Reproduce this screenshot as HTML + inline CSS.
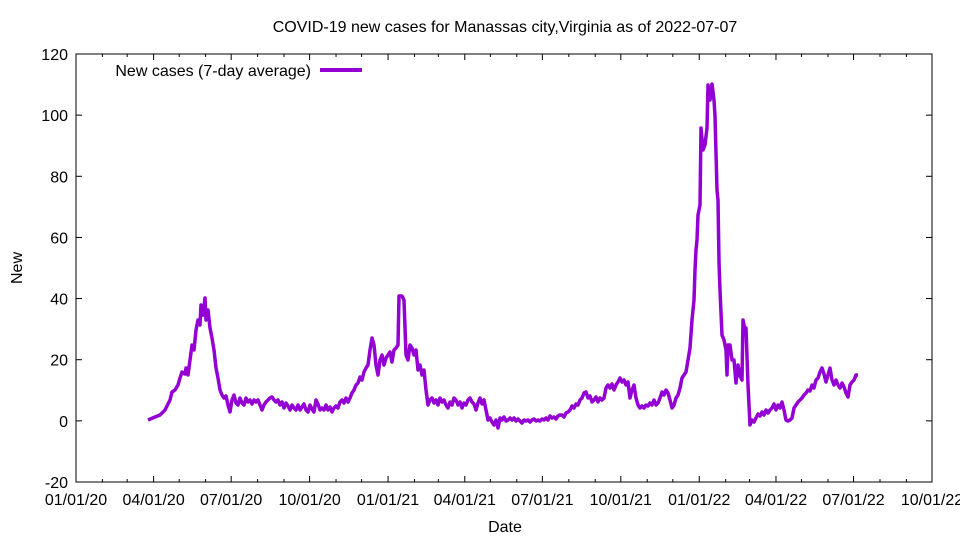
<!DOCTYPE html>
<html><head><meta charset="utf-8"><style>body{margin:0;background:#fff}svg text{font-family:"Liberation Sans",sans-serif;font-size:16px}</style></head><body>
<svg width="960" height="540" xmlns="http://www.w3.org/2000/svg">
<rect width="960" height="540" fill="#fff"/>
<text x="505" y="32" text-anchor="middle">COVID-19 new cases for Manassas city,Virginia as of 2022-07-07</text>
<g id="ax" stroke="#000" stroke-width="1">
<rect x="76" y="54" width="856" height="428" fill="none"/>
</g>
<g id="ticks" stroke="#000"></g>
<g id="lbl"></g>
<text x="505" y="532" text-anchor="middle">Date</text>
<text transform="translate(22,268) rotate(-90)" text-anchor="middle">New</text>
<text x="311" y="76" text-anchor="end">New cases (7-day average)</text>
<line x1="320" y1="70" x2="362" y2="70" stroke="#9400d3" stroke-width="4"/>
<polyline id="pl" fill="none" stroke="#9400d3" stroke-width="3.5" stroke-linejoin="round" points="148,420 155,417 160,415 165,410 170,400 172,392 175,390 178,385 180,378 182,372 185,374 186,368 188,375 190,360 192,345 194,350 196,330 198,320 200,325 201,305 203,315 205,298 206,320 208,310 210,328 212,338 214,350 216,368 218,378 220,390 222,395 224,398 226,396 228,405 230,412 232,400 234,395 236,403 238,405 240,398 242,403 244,405 246,398 248,402 250,400 252,404 254,400 256,402 258,400 260,405 262,410 264,405 266,402 268,400 270,398 272,397 274,400 276,402 278,400 280,405 282,402 284,408 286,403 288,406 290,410 292,405 294,408 296,410 298,405 300,410 302,407 304,404 306,410 308,412 310,405 312,409 314,412 316,400 318,404 320,410 322,408 324,410 326,405 328,410 330,407 332,412 334,408 336,406 338,408 340,402 342,400 344,403 346,398 348,402 350,398 352,393 354,390 356,385 358,383 360,377 362,380 364,372 366,368 368,365 370,350 372,338 374,345 376,365 378,375 380,360 382,355 384,365 386,358 388,355 390,352 392,362 394,350 396,348 398,345 399,296 402,296 404,300 406,355 408,360 410,345 412,348 414,355 416,350 418,370 420,365 422,375 424,370 426,390 428,405 430,400 432,398 434,403 436,400 438,405 440,398 442,402 444,400 446,405 448,408 450,402 452,405 454,398 456,400 458,405 460,402 462,408 464,403 466,405 468,400 470,398 472,402 474,404 476,410 478,403 480,398 482,404 484,400 486,410 488,420 490,418 492,422 494,425 496,420 498,428 500,418 502,420 504,417 506,421 508,420 510,418 512,420 514,418 516,421 518,419 520,421 522,423 524,420 526,421 528,420 530,422 532,420 534,419 536,421 538,420 540,421 542,419 544,420 546,418 548,420 550,416 552,418 554,417 556,419 558,416 560,415 562,415 564,417 566,413 568,412 570,410 572,406 574,408 576,404 578,405 580,400 582,398 584,393 586,392 588,398 590,396 592,402 594,400 596,397 598,402 600,398 602,400 604,398 606,388 608,385 610,388 612,384 614,390 616,385 618,382 620,378 622,382 624,380 626,385 628,382 630,398 632,390 634,385 636,398 638,405 640,408 642,406 644,408 646,405 648,406 650,403 652,405 654,400 656,405 658,403 660,398 662,392 664,395 666,390 668,393 670,400 672,408 674,405 676,398 678,395 680,388 682,378 684,375 686,372 688,360 690,348 692,320 694,300 695,270 696,250 697,240 698,215 700,205 701,128 703,150 705,145 707,128 708,85 710,100 712,84 714,100 715,116 717,190 718,200 719,262 720,290 722,335 724,340 726,350 727,375 728,345 730,345 732,360 734,360 736,383 738,365 740,376 742,380 743,320 745,330 746,328 748,385 750,425 752,420 754,422 756,418 758,414 760,416 762,412 764,415 766,410 768,413 770,410 772,408 774,404 776,410 778,405 780,408 782,402 784,410 786,420 788,421 790,420 792,418 794,408 796,405 798,402 800,400 802,398 804,395 806,393 808,390 810,391 812,385 814,388 816,380 818,378 820,372 822,368 824,374 826,382 828,375 830,368 832,380 834,385 836,380 838,385 840,388 842,383 844,387 846,393 848,397 850,385 852,382 854,380 856,375 858,375"/>
<script>
var t=document.getElementById('ticks'),l=document.getElementById('lbl'),ns='http://www.w3.org/2000/svg';
function ln(a,b,c,d){var e=document.createElementNS(ns,'line');e.setAttribute('x1',a);e.setAttribute('y1',b);e.setAttribute('x2',c);e.setAttribute('y2',d);t.appendChild(e);}
function tx(x,y,s,a){var e=document.createElementNS(ns,'text');e.setAttribute('x',x);e.setAttribute('y',y);e.setAttribute('text-anchor',a);e.textContent=s;l.appendChild(e);}
for(var v=-20;v<=120;v+=20){var y=54+(120-v)*428/140;ln(76,y,82,y);ln(926,y,932,y);tx(68,y+6,v,'end');}
var ms=[31,29,31,30,31,30,31,31,30,31,30,31,31,28,31,30,31,30,31,31,30,31,30,31,31,28,31,30,31,30,31,31,30,31,30,31];
var d=0,names=['01/01/20','04/01/20','07/01/20','10/01/20','01/01/21','04/01/21','07/01/21','10/01/21','01/01/22','04/01/22','07/01/22','10/01/22'];
for(var m=0;m<=33;m++){var x=76+d*856/1004;var maj=m%3==0;var L=maj?6:3;ln(x,482,x,482-L);ln(x,54,x,54+L);if(maj)tx(x,505,names[m/3],'middle');d+=ms[m];}
</script>
</svg>
</body></html>
